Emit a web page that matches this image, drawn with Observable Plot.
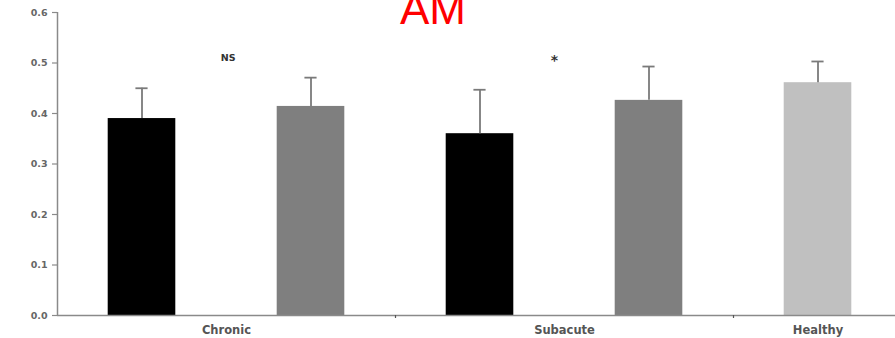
<!DOCTYPE html>
<html>
<head>
<meta charset="utf-8">
<script src="https://cdn.jsdelivr.net/npm/d3@7"></script>
<script src="https://cdn.jsdelivr.net/npm/@observablehq/plot@0.6"></script>
<style>
  html, body { margin: 0; padding: 0; background: #fff; }
  #chart svg { display: block; }
</style>
</head>
<body>
<div id="chart"></div>
<script>
// Data
const groups = ["Chronic", "Chronic", "Subacute", "Subacute", "Healthy"];
const conditions = ["A", "B", "A", "B", "Healthy"];
const means = [0.39, 0.414, 0.36, 0.426, 0.461];
const errors = [0.06, 0.057, 0.087, 0.067, 0.042];
const barColors = ["#000000", "#7f7f7f", "#000000", "#7f7f7f", "#c0c0c0"];
const yTicks = [0, 0.1, 0.2, 0.3, 0.4, 0.5, 0.6];
const categoryLabels = ["Chronic", "Subacute", "Healthy"];
const categoryPos = [1, 3, 4.5];
const separators = [2, 4];
const annotations = ["NS", "*"];
const annotationPos = [1.01, 2.94];
const annotationY = [0.51, 0.505];
const annotationSize = [9.5, 14];
const title = "AM";

const bars = means.map((m, i) => ({i, group: groups[i], cond: conditions[i], mean: m, err: errors[i], top: m + errors[i], color: barColors[i]}));
const cats = categoryLabels.map((c, k) => ({label: c, x: categoryPos[k]}));
const notes = annotations.map((t, k) => ({t, x: annotationPos[k], y: annotationY[k], size: annotationSize[k]}));
const halfBar = 0.2, halfCap = 0.036;
const boldFont = "'DejaVu Sans', 'Liberation Sans', Arial, sans-serif";

const chart = Plot.plot({
  width: 895,
  height: 338,
  marginTop: 12,
  marginBottom: 23,
  marginLeft: 57,
  marginRight: -7,
  style: {fontFamily: "'Liberation Sans', Arial, sans-serif", background: "#fff"},
  x: {domain: [0, 5], axis: null},
  y: {domain: [0, 0.6], axis: null},
  marks: [
    Plot.rectY(bars, {x1: d => d.i + 0.5 - halfBar, x2: d => d.i + 0.5 + halfBar, y1: 0, y2: "mean", fill: "color"}),
    Plot.ruleX(bars, {x: d => d.i + 0.5, y1: "mean", y2: "top", stroke: "#7a7a7a", strokeWidth: 1.8}),
    Plot.ruleY(bars, {x1: d => d.i + 0.5 - halfCap, x2: d => d.i + 0.5 + halfCap, y: "top", stroke: "#7a7a7a", strokeWidth: 1.8}),
    Plot.ruleY([0], {stroke: "#8a8a8a", strokeWidth: 1.5}),
    Plot.ruleX([0], {y1: 0, y2: 0.6, stroke: "#8a8a8a", strokeWidth: 1.5}),
    Plot.axisY({ticks: yTicks, tickFormat: d3.format(".1f"), tickSize: 5, tickPadding: 5, label: null, stroke: "#8a8a8a", strokeWidth: 1.2, fill: "#666", fontSize: 9.5, fontWeight: "bold", fontFamily: boldFont, letterSpacing: 1.5}),
    Plot.axisX({ticks: separators, tickSize: 3, tickFormat: () => "", label: null, stroke: "#555", strokeWidth: 1.2}),
    Plot.text(cats, {x: "x", y: 0, text: "label", dy: 15, fill: "#555", fontSize: 11.5, fontWeight: "bold", fontFamily: boldFont, letterSpacing: 1.5}),
    Plot.text(notes, {x: "x", y: "y", text: "t", fill: "#333", fontSize: d => d.size, fontWeight: "bold", fontFamily: boldFont, letterSpacing: 1.5}),
    Plot.text([title], {frameAnchor: "top", text: d => d, dx: -47, dy: 11, fill: "#ff0000", fontSize: 44, lineAnchor: "bottom", letterSpacing: 1, fontFamily: "'Liberation Sans', Arial, sans-serif"})
  ]
});
document.getElementById("chart").append(chart);
</script>
</body>
</html>
